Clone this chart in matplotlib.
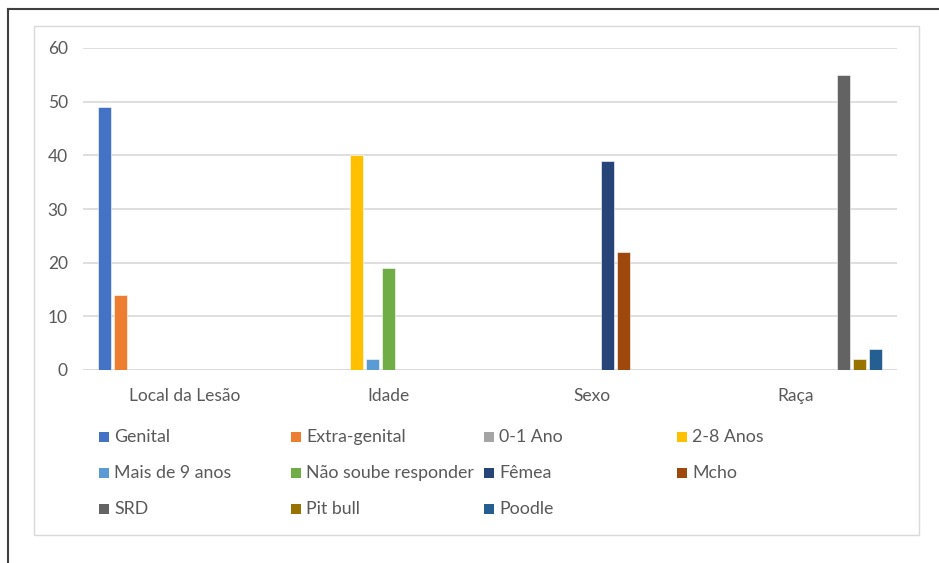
import matplotlib
matplotlib.use("Agg")
import matplotlib.pyplot as plt
from matplotlib.patches import Rectangle
from matplotlib.lines import Line2D
import numpy as np

plt.rcParams['font.family'] = ['Lato', 'DejaVu Sans']

categories = ["Local da Lesão", "Idade", "Sexo", "Raça"]
series_names = ["Genital", "Extra-genital", "0-1 Ano", "2-8 Anos",
                "Mais de 9 anos", "Não soube responder", "Fêmea", "Mcho",
                "SRD", "Pit bull", "Poodle"]
# one value per category for each series (0 where the series does not apply)
genital = [49, 0, 0, 0]
extra_genital = [14, 0, 0, 0]
ano_0_1 = [0, 0, 0, 0]
anos_2_8 = [0, 40, 0, 0]
mais_9 = [0, 2, 0, 0]
nao_soube = [0, 19, 0, 0]
femea = [0, 0, 39, 0]
macho = [0, 0, 22, 0]
srd = [0, 0, 0, 55]
pit_bull = [0, 0, 0, 2]
poodle = [0, 0, 0, 4]
series_values = [genital, extra_genital, ano_0_1, anos_2_8, mais_9, nao_soube,
                 femea, macho, srd, pit_bull, poodle]
yticks = [0, 10, 20, 30, 40, 50, 60]

colors = ["#4472C4", "#ED7D31", "#A5A5A5", "#FFC000", "#5B9BD5", "#70AD47",
          "#264478", "#9E480E", "#636363", "#997300", "#255E91"]
text_color = "#595959"
grid_color = "#D9D9D9"

W, H = 939, 563
fig = plt.figure(figsize=(W / 100, H / 100), dpi=100)

def fx(px):
    return px / W

def fy(py):
    return 1 - py / H

# outer frame (left and top edges)
fig.add_artist(Line2D([fx(8), fx(8)], [fy(9), 0], color="#404040", lw=1.5))
fig.add_artist(Line2D([fx(8), 1], [fy(9), fy(9)], color="#404040", lw=1.5))
# chart area border
fig.add_artist(Rectangle((fx(34), fy(535)), fx(919) - fx(34), fy(26) - fy(535),
                         fill=False, edgecolor=grid_color, lw=1))

ax = fig.add_axes([fx(83), fy(370), fx(897) - fx(83), fy(48) - fy(370)])
ax.set_xlim(-0.5, len(categories) - 0.5)
ax.set_ylim(0, 60)

n = len(series_names)
slot = 16 / 203.5
bar_w = 13 / 203.5
x = np.arange(len(categories))
for i, (name, vals, c) in enumerate(zip(series_names, series_values, colors)):
    ax.bar(x + (i - (n - 1) / 2) * slot, vals, width=bar_w, color=c,
           edgecolor="white", linewidth=0.4, zorder=3)

for s in ax.spines.values():
    s.set_visible(False)
ax.set_yticks(yticks)
ax.yaxis.grid(True, color=grid_color, lw=1.2, zorder=0)
ax.axhline(0, color=grid_color, lw=1.2, zorder=1)
ax.tick_params(axis='y', length=0, pad=11, labelsize=12.5, labelcolor=text_color)
ax.set_xticks(x)
ax.set_xticklabels(categories)
ax.tick_params(axis='x', length=0, pad=13, labelsize=12.5, labelcolor=text_color)

# legend laid out in rows of four
col_x = [99, 291, 484, 677]
row_y = [437, 473, 509]
for i, (name, c) in enumerate(zip(series_names, colors)):
    r, col = divmod(i, 4)
    mx, my = col_x[col], row_y[r]
    fig.add_artist(Rectangle((fx(mx), fy(my + 5)), fx(10), 10 / H,
                             facecolor=c, edgecolor="none"))
    fig.text(fx(mx + 15), fy(my), name, color=text_color, fontsize=12.8,
             va="center", ha="left")

fig.savefig("out.png", dpi=100, facecolor="white")
